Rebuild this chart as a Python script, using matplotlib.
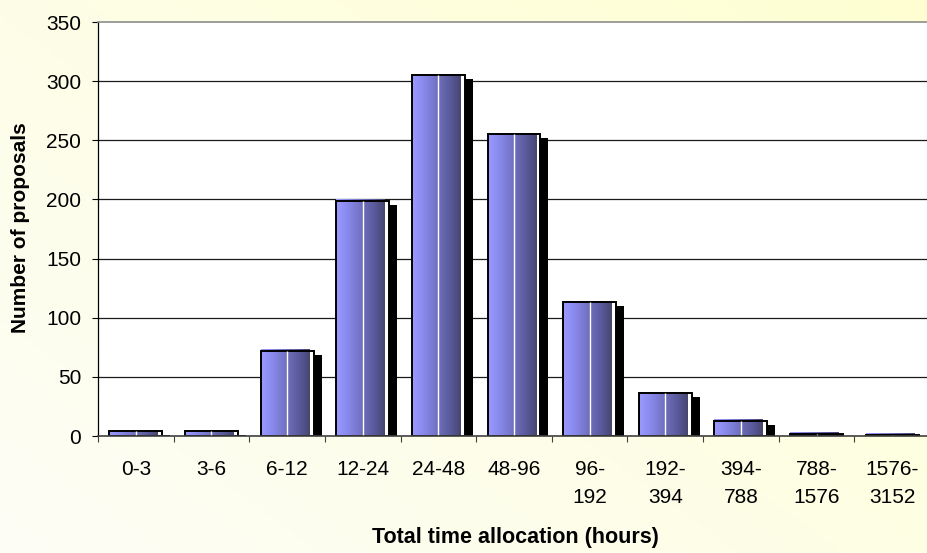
import numpy as np
import matplotlib
matplotlib.use("Agg")
import matplotlib.pyplot as plt
from matplotlib.colors import LinearSegmentedColormap
from matplotlib.transforms import offset_copy
from matplotlib.ticker import FixedLocator, NullFormatter

# Proposals per total-time bin
categories = ["0-3", "3-6", "6-12", "12-24", "24-48", "48-96",
              "96-\n192", "192-\n394", "394-\n788", "788-\n1576", "1576-\n3152"]
proposals = [4, 4, 72, 199, 305, 255, 113, 36, 13, 2, 1]
y_ticks = [0, 50, 100, 150, 200, 250, 300, 350]

plt.rcParams["font.family"] = ["Liberation Sans", "DejaVu Sans"]

fig = plt.figure(figsize=(9.28, 5.53), dpi=100)

# pale yellow backdrop, brighter towards the upper right
bg = fig.add_axes([0, 0, 1, 1], zorder=-10)
bg_cmap = LinearSegmentedColormap.from_list("bg", ["#fdfdf6", "#fefee6", "#ffffd2"])
gx, gy = np.meshgrid(np.linspace(0, 1, 300), np.linspace(0, 1, 200))
bg.imshow(0.55 * gx + 0.45 * gy, cmap=bg_cmap, origin="lower",
          extent=[0, 1, 0, 1], aspect="auto", vmin=0, vmax=1)
bg.axis("off")

W, H = 928, 553
ax = fig.add_axes([98 / W, 1 - 436 / H, 832 / W, 414 / H])
ax.set_facecolor("white")

n = len(categories)
x = np.arange(n)
bar_w = 0.70
fill_w = 0.645

# horizontal gridlines
ax.hlines(y_ticks[1:-1], -0.5, n - 0.5, colors="#1a1a1a", lw=0.9, zorder=0.5)

# drop shadow
shadow_tr = offset_copy(ax.transData, fig=fig, x=8, y=-4, units="dots")
shadows = ax.bar(x, proposals, width=bar_w, color="black", zorder=1)
for p in shadows:
    p.set_transform(shadow_tr)

# white body behind the gradient
ax.bar(x, proposals, width=bar_w, color="white", zorder=2)

# gradient fill
grad_cmap = LinearSegmentedColormap.from_list(
    "barfill", ["#9a9aff", "#8c8cf0", "#7b7bd4", "#6a6ab4", "#58589a", "#46466f"])
fill_tr = offset_copy(ax.transData, fig=fig, x=0, y=1.5, units="dots")
fills = ax.bar(x - bar_w / 2, proposals, width=fill_w, align="edge",
               color="none", zorder=3)
grad = np.linspace(0, 1, 256).reshape(1, -1)
for p, xi in zip(fills, x):
    p.set_transform(fill_tr)
    x0 = xi - bar_w / 2
    im = ax.imshow(grad, cmap=grad_cmap, aspect="auto", origin="lower",
                   extent=[x0, x0 + fill_w, 0, y_ticks[-1]], zorder=3,
                   interpolation="bilinear")
    im.set_clip_path(p)

# outline
ax.bar(x, proposals, width=bar_w, facecolor="none", edgecolor="black",
       linewidth=1.4, zorder=4)

# highlight stripe down the middle of each bar
ax.vlines(x, 0, proposals, colors="white", lw=1.0, zorder=5)

ax.set_xlim(-0.5, n - 0.5)
ax.set_ylim(0, 350)
ax.set_aspect("auto")

# spines
ax.spines["right"].set_visible(False)
ax.spines["top"].set_color("#8c8c8c")
ax.spines["top"].set_linewidth(1.2)
ax.spines["left"].set_color("black")
ax.spines["left"].set_linewidth(0.9)
ax.spines["bottom"].set_color("#404040")
ax.spines["bottom"].set_linewidth(1.2)
for s in ax.spines.values():
    s.set_zorder(6)

# y axis
ax.set_yticks(y_ticks)
ax.tick_params(axis="y", direction="out", length=4, width=0.8, pad=8,
               labelsize=15, colors="black")

# x axis: ticks on bin boundaries, labels at bin centres
ax.xaxis.set_major_locator(FixedLocator(np.arange(n + 1) - 0.5))
ax.xaxis.set_major_formatter(NullFormatter())
ax.xaxis.set_minor_locator(FixedLocator(x))
ax.set_xticklabels(categories, minor=True, linespacing=1.6)
ax.tick_params(axis="x", which="major", direction="out", length=4.5,
               width=0.8, color="#404040")
ax.tick_params(axis="x", which="minor", length=0, pad=17, labelsize=15)

fig.text(21 / W, 1 - 228 / H, "Number of proposals", rotation=90,
         ha="center", va="center", fontsize=15, fontweight="bold")
fig.text(515 / W, 1 - 537 / H, "Total time allocation (hours)",
         ha="center", va="center", fontsize=15.5, fontweight="bold")

fig.savefig("out.png", dpi=100)
